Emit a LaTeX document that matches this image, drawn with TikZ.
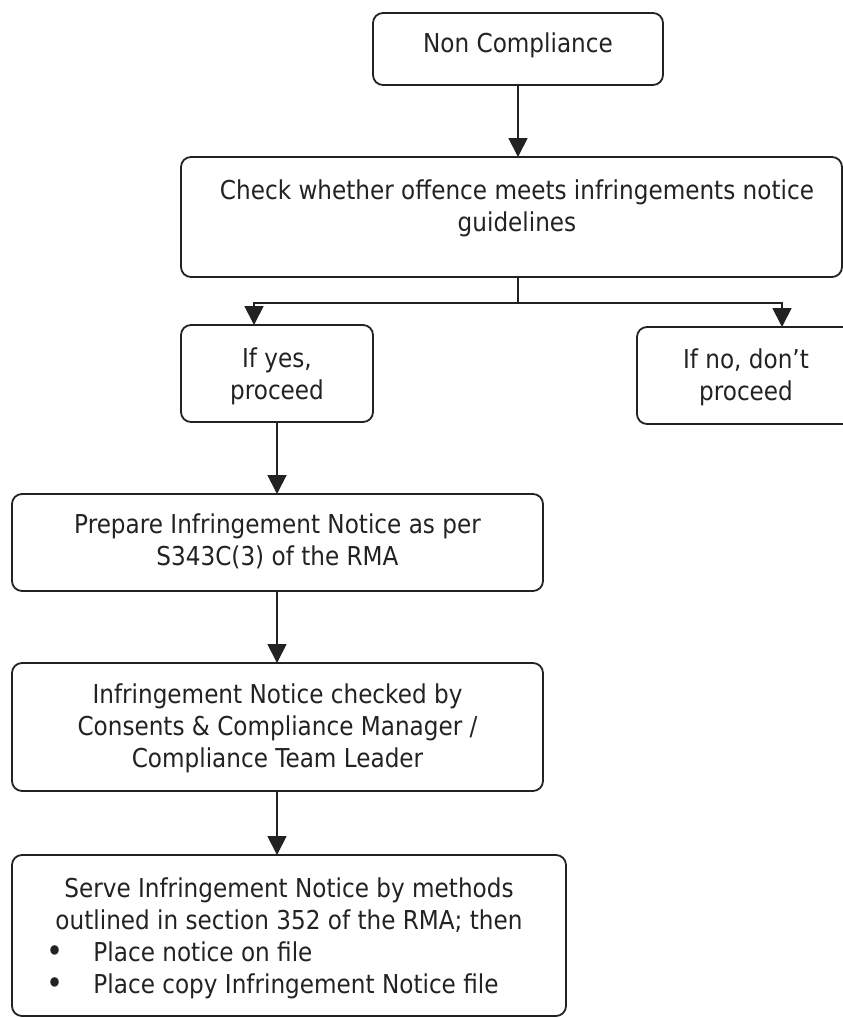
\documentclass[tikz,border=0pt]{standalone}
\usepackage{fontspec}
\setmainfont{DejaVu Sans}[FakeStretch=0.89]
\usetikzlibrary{arrows.meta}
\definecolor{ink}{HTML}{222222}

% one text block per box; [t] puts the node baseline on the first line
\newcommand{\lines}[1]{\begin{tabular}[t]{@{}c@{}}#1\end{tabular}}
\newcommand{\bulletline}[1]{\multicolumn{1}{@{}l@{}}{\makebox[38pt][l]{\hspace{-9pt}\raisebox{-1.5pt}{\scalebox{1.25}{•}}}#1}}

\tikzset{
  box/.style={draw=ink, text=ink, rounded corners=10pt, line width=1.8pt,
    inner xsep=0pt, inner ysep=0pt, outer sep=0pt,
    font=\fontsize{26pt}{32pt}\selectfont},
  link/.style={draw=ink, line width=1.8pt},
  arr/.style={link, -{Triangle[width=19pt,length=19pt]}}
}

\begin{document}
\begin{tikzpicture}[x=1pt,y=-1pt]
\useasboundingbox (0,0) rectangle (843,1018);
\clip (0,0) rectangle (843,1018);

% boxes: text height = top to first baseline, text depth = first baseline to bottom
\node[box, minimum width=290pt, text height=39pt, text depth=33pt] (nc) at (518,49)
  {\lines{Non Compliance}};
\node[box, minimum width=661pt, text height=42pt, text depth=78pt] (chk) at (511.5,217)
  {\begin{tabular}[t]{@{\hspace{11pt}}c@{}}Check whether offence meets infringements notice\\guidelines\end{tabular}};
\node[box, minimum width=192pt, text height=42pt, text depth=55pt] (yes) at (277,373.5)
  {\lines{If yes,\\proceed}};
\node[box, minimum width=218pt, text height=41pt, text depth=56pt] (no) at (746,375.5)
  {\lines{If no, don’t\\proceed}};
\node[box, minimum width=531pt, text height=39pt, text depth=58pt] (prep) at (277.5,542.5)
  {\lines{Prepare Infringement Notice as per\\S343C(3) of the RMA}};
\node[box, minimum width=531pt, text height=40pt, text depth=88pt] (rev) at (277.5,727)
  {\lines{Infringement Notice checked by\\Consents \& Compliance Manager /\\Compliance Team Leader}};
\node[box, minimum width=554pt, text height=42pt, text depth=119pt] (serve) at (289,935.5)
  {\lines{Serve Infringement Notice by methods\\
    outlined in section 352 of the RMA; then\\
    \bulletline{Place notice on file}\\
    \bulletline{Place copy Infringement Notice file}}};

% branching points under the check box
\coordinate (split) at (518,303);
\coordinate (yesdrop) at (254,303);
\coordinate (nodrop) at (782,303);

% connectors
\draw[arr] (nc.south) -- (nc.south |- chk.north);
\draw[link] (split |- chk.south) -- (split);
\draw[arr] (split) -- (yesdrop) -- (yesdrop |- yes.north);
\draw[arr] (split) -- (nodrop) -- (nodrop |- no.north);
\draw[arr] (yes.south) -- (yes.south |- prep.north);
\draw[arr] (yes.south |- prep.south) -- (yes.south |- rev.north);
\draw[arr] (yes.south |- rev.south) -- (yes.south |- serve.north);
\end{tikzpicture}
\end{document}
